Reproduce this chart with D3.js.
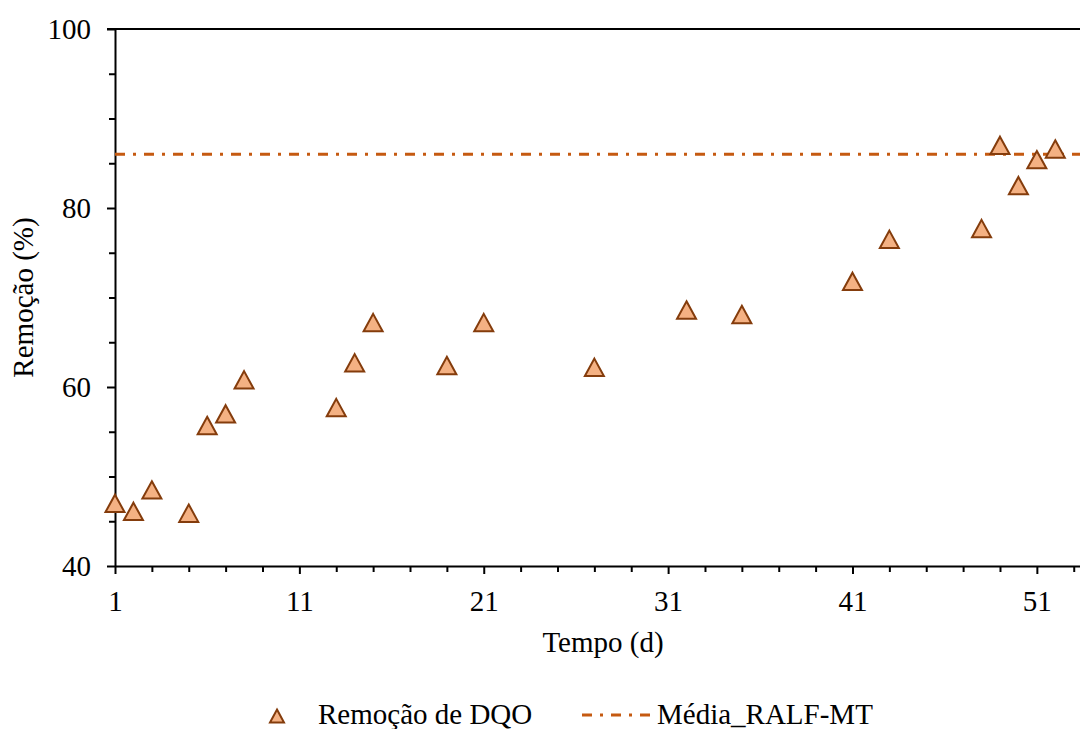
<!DOCTYPE html>
<html>
<head>
<meta charset="utf-8">
<script src="https://cdn.jsdelivr.net/npm/d3@7"></script>
<style>
  html, body { margin: 0; padding: 0; background: #fff; }
  svg { display: block; font-family: "Liberation Serif", "Times New Roman", serif; }
  .axis path, .axis line { stroke: #000; stroke-width: 2px; }
  .axis text { font-size: 29px; fill: #000; font-family: "Liberation Serif", "Times New Roman", serif; }
</style>
</head>
<body>
<svg id="chart" width="1080" height="729"></svg>
<script>
// COD removal over time (days) with the reactor's mean removal
const days = [1, 2, 3, 5, 6, 7, 8, 13, 14, 15, 19, 21, 27, 32, 35, 41, 43, 48, 49, 50, 51, 52];
const removal = [47.0, 46.1, 48.5, 45.9, 55.7, 57.0, 60.8, 57.7, 62.7, 67.2, 62.4, 67.2, 62.2, 68.6, 68.1, 71.8, 76.5, 77.7, 87.0, 82.5, 85.4, 86.6];
const meanRemoval = 86.0;
const xMajorTicks = [1, 11, 21, 31, 41, 51];
const xMinorTicks = [3, 5, 7, 9, 13, 15, 17, 19, 23, 25, 27, 29, 33, 35, 37, 39, 43, 45, 47, 49, 53];
const yMajorTicks = [40, 60, 80, 100];
const yMinorTicks = [45, 50, 55, 65, 70, 75, 85, 90, 95];
const seriesNames = ["Remoção de DQO", "Média_RALF-MT"];
const axisTitles = { x: "Tempo (d)", y: "Remoção (%)" };

const svg = d3.select("#chart");
const plotLeft = 115, plotRight = 1080, plotTop = 29, plotBottom = 566;

const x = d3.scaleLinear().domain([1, 53.34]).range([plotLeft, plotRight]);
const y = d3.scaleLinear().domain([40, 100]).range([plotBottom, plotTop]);

const markerFill = "#F4B183", markerStroke = "#843C0C", meanColor = "#C55A11";
const dashDot = "10,8,3,8";

// top frame line
svg.append("line")
  .attr("x1", plotLeft - 8).attr("x2", plotRight)
  .attr("y1", y(100)).attr("y2", y(100))
  .attr("stroke", "#000").attr("stroke-width", 2);

// y axis: minor then major ticks
svg.append("g").attr("class", "axis").attr("transform", `translate(${plotLeft},0)`)
  .call(d3.axisLeft(y).tickValues(yMinorTicks).tickSize(6).tickFormat(""))
  .call(g => g.select(".domain").remove());
svg.append("g").attr("class", "axis").attr("transform", `translate(${plotLeft},0)`)
  .call(d3.axisLeft(y).tickValues(yMajorTicks).tickSize(8).tickSizeOuter(0).tickPadding(16));

// x axis: minor then major ticks
svg.append("g").attr("class", "axis").attr("transform", `translate(0,${plotBottom})`)
  .call(d3.axisBottom(x).tickValues(xMinorTicks).tickSize(6).tickFormat(""))
  .call(g => g.select(".domain").remove());
svg.append("g").attr("class", "axis").attr("transform", `translate(0,${plotBottom})`)
  .call(d3.axisBottom(x).tickValues(xMajorTicks).tickSize(8).tickSizeOuter(0).tickPadding(16));

// mean removal line
svg.append("line")
  .attr("x1", x(1)).attr("x2", plotRight)
  .attr("y1", y(meanRemoval)).attr("y2", y(meanRemoval))
  .attr("stroke", meanColor).attr("stroke-width", 3)
  .attr("stroke-dasharray", dashDot);

// triangle marker paths centred on the point
const tri = "M0,-8.7L9.5,8.7L-9.5,8.7Z";
const triSmall = "M0,-6.5L7,6.5L-7,6.5Z";

svg.append("g").selectAll("path")
  .data(days.map((d, i) => ({ day: d, v: removal[i] })))
  .join("path")
  .attr("d", tri)
  .attr("transform", d => `translate(${x(d.day)},${y(d.v)})`)
  .attr("fill", markerFill)
  .attr("stroke", markerStroke)
  .attr("stroke-width", 2)
  .attr("stroke-linejoin", "miter");

// axis titles
svg.append("text")
  .attr("x", 603).attr("y", 652)
  .attr("text-anchor", "middle")
  .attr("font-size", 29)
  .text(axisTitles.x);

svg.append("text")
  .attr("transform", `translate(33,${(plotTop + plotBottom) / 2}) rotate(-90)`)
  .attr("text-anchor", "middle")
  .attr("font-size", 29)
  .text(axisTitles.y);

// legend
const legend = svg.append("g");
legend.append("path")
  .attr("d", triSmall)
  .attr("transform", "translate(277,716)")
  .attr("fill", markerFill).attr("stroke", markerStroke).attr("stroke-width", 2);
legend.append("text")
  .attr("x", 318).attr("y", 724)
  .attr("font-size", 29)
  .text(seriesNames[0]);
legend.append("line")
  .attr("x1", 582).attr("x2", 652).attr("y1", 715).attr("y2", 715)
  .attr("stroke", meanColor).attr("stroke-width", 3)
  .attr("stroke-dasharray", dashDot);
legend.append("text")
  .attr("x", 657).attr("y", 724)
  .attr("font-size", 29)
  .text(seriesNames[1]);
</script>
</body>
</html>
